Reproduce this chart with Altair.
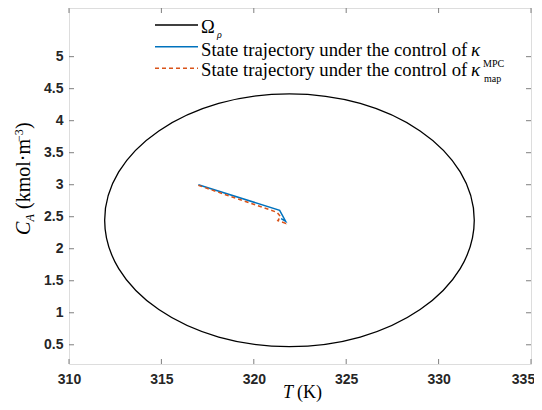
import altair as alt
import pandas as pd

# Level set Omega_rho (closed curve)
ell_T = [331.93, 331.17, 329.00, 325.76, 321.93, 318.10, 314.86, 312.69,
         311.93, 312.69, 314.86, 318.10, 321.93, 325.76, 329.00, 331.17]
ell_CA = [2.445, 3.20, 3.84, 4.27, 4.42, 4.27, 3.84, 3.20,
          2.445, 1.69, 1.05, 0.62, 0.47, 0.62, 1.05, 1.69]

# Trajectory under kappa_MPC
mpc_T = [317.0, 321.40, 321.72, 321.48, 321.68]
mpc_CA = [3.00, 2.60, 2.43, 2.47, 2.44]

# Trajectory under kappa_map
map_T = [317.0, 321.25, 321.45, 321.30, 321.70, 321.62]
map_CA = [2.99, 2.57, 2.50, 2.44, 2.40, 2.45]

x_ticks = [310, 315, 320, 325, 330, 335]
y_ticks = [0.5, 1, 1.5, 2, 2.5, 3, 3.5, 4, 4.5, 5]

W, H = 462, 356
SERIF = "Liberation Serif"
SANS = "Liberation Sans"
GRAY = "#7f7f7f"

ell_df = pd.DataFrame({"T": ell_T, "CA": ell_CA, "o": range(len(ell_T))})
mpc_df = pd.DataFrame({"T": mpc_T, "CA": mpc_CA, "o": range(len(mpc_T))})
map_df = pd.DataFrame({"T": map_T, "CA": map_CA, "o": range(len(map_T))})

xs = alt.Scale(domain=[310, 335], nice=False, zero=False)
ys = alt.Scale(domain=[0.2, 5.76], nice=False, zero=False)

xax = alt.Axis(values=x_ticks, tickCount=20, ticks=False, domain=False,
               grid=False, title=None,
               labelFont=SANS, labelFontWeight="bold", labelFontSize=14,
               labelColor="#262626", labelPadding=8, labelFlush=False,
               labelOverlap=False, labelBound=False,
               labelOffset={"condition": {"test": "datum.value >= 335", "value": -8},
                            "value": 0})
yax = alt.Axis(values=y_ticks, tickCount=20, ticks=False, domain=False,
               grid=False, title=None,
               labelFont=SANS, labelFontWeight="bold", labelFontSize=14,
               labelColor="#262626", labelPadding=6,
               labelExpr="'' + datum.value",
               labelOverlap=False, labelBound=False, labelFlush=False)

ellipse = alt.Chart(ell_df).mark_line(
    interpolate="cardinal-closed", color="#000000", strokeWidth=1.3, clip=False
).encode(
    x=alt.X("T:Q", scale=xs, axis=xax),
    y=alt.Y("CA:Q", scale=ys, axis=yax),
    order="o:Q",
)

mpc = alt.Chart(mpc_df).mark_line(color="#0072BD", strokeWidth=1.5).encode(
    x="T:Q", y="CA:Q", order="o:Q")
mp = alt.Chart(map_df).mark_line(color="#D95319", strokeWidth=1.5,
                                 strokeDash=[4, 3]).encode(
    x="T:Q", y="CA:Q", order="o:Q")

# inward tick marks (MATLAB box style)
xt_df = pd.DataFrame({"T": x_ticks})
yt_df = pd.DataFrame({"CA": y_ticks})
xt_bot = alt.Chart(xt_df).mark_rule(color=GRAY, strokeWidth=1).encode(
    x="T:Q", y=alt.value(H), y2=alt.value(H - 5))
xt_top = alt.Chart(xt_df).mark_rule(color=GRAY, strokeWidth=1).encode(
    x="T:Q", y=alt.value(0), y2=alt.value(5))
yt_left = alt.Chart(yt_df).mark_rule(color=GRAY, strokeWidth=1).encode(
    y="CA:Q", x=alt.value(0), x2=alt.value(5))
yt_right = alt.Chart(yt_df).mark_rule(color=GRAY, strokeWidth=1).encode(
    y="CA:Q", x=alt.value(W), x2=alt.value(W - 5))

one = alt.Data(values=[{"a": 1}])


def rule(x1, x2, y, color, dash=None):
    kw = dict(color=color, strokeWidth=1.5)
    if dash:
        kw["strokeDash"] = dash
    return alt.Chart(one).mark_rule(**kw).encode(
        x=alt.value(x1), x2=alt.value(x2), y=alt.value(y))


def txt(s, x, y, size, style="normal", angle=0, align="left"):
    kw = dict(text=s, font=SERIF, fontSize=size, color="#000000",
              align=align, baseline="alphabetic", fontStyle=style)
    if angle:
        kw["angle"] = angle
    return alt.Chart(one).mark_text(**kw).encode(x=alt.value(x), y=alt.value(y))


LX1, LX2, TX = 86, 129, 132
legend = [
    rule(LX1, LX2, 17, "#000000"),
    rule(LX1, LX2, 38.7, "#0072BD"),
    rule(LX1, LX2, 60.3, "#D95319", [4, 3]),
    txt("Ω", TX, 24.5, 18.5),
    txt("ρ", 148, 29.5, 10, "italic"),
    txt("State trajectory under the control of", TX, 47.5, 18.7),
    txt("κ", 402, 47.5, 19, "italic"),
    txt("MPC", 414, 58.5, 10),
    txt("State trajectory under the control of", TX, 67.5, 18.7),
    txt("κ", 402, 67.5, 19, "italic"),
    txt("map", 415, 73.5, 10),
]

titles = [
    txt("T", 214, 390, 18, "italic"),
    txt("(K)", 228, 390, 18),
    txt("C", -39, 227, 20, "italic", angle=270),
    txt("A", -35, 213.5, 12, "italic", angle=270),
    txt("(kmol·m", -39, 201, 20, angle=270),
    txt("−3", -46, 134, 12, angle=270),
    txt(")", -39, 121, 20, angle=270),
]

chart = alt.layer(
    ellipse, mpc, mp, xt_bot, xt_top, yt_left, yt_right, *legend, *titles
).properties(
    width=W, height=H,
    autosize=alt.AutoSizeParams(type="none"),
    padding={"left": 61, "top": 0, "right": 3, "bottom": 38},
).configure_view(
    stroke=GRAY, strokeWidth=1
).configure(background="white")

chart.save("out.html", embed_options={"renderer": "svg", "actions": False})
